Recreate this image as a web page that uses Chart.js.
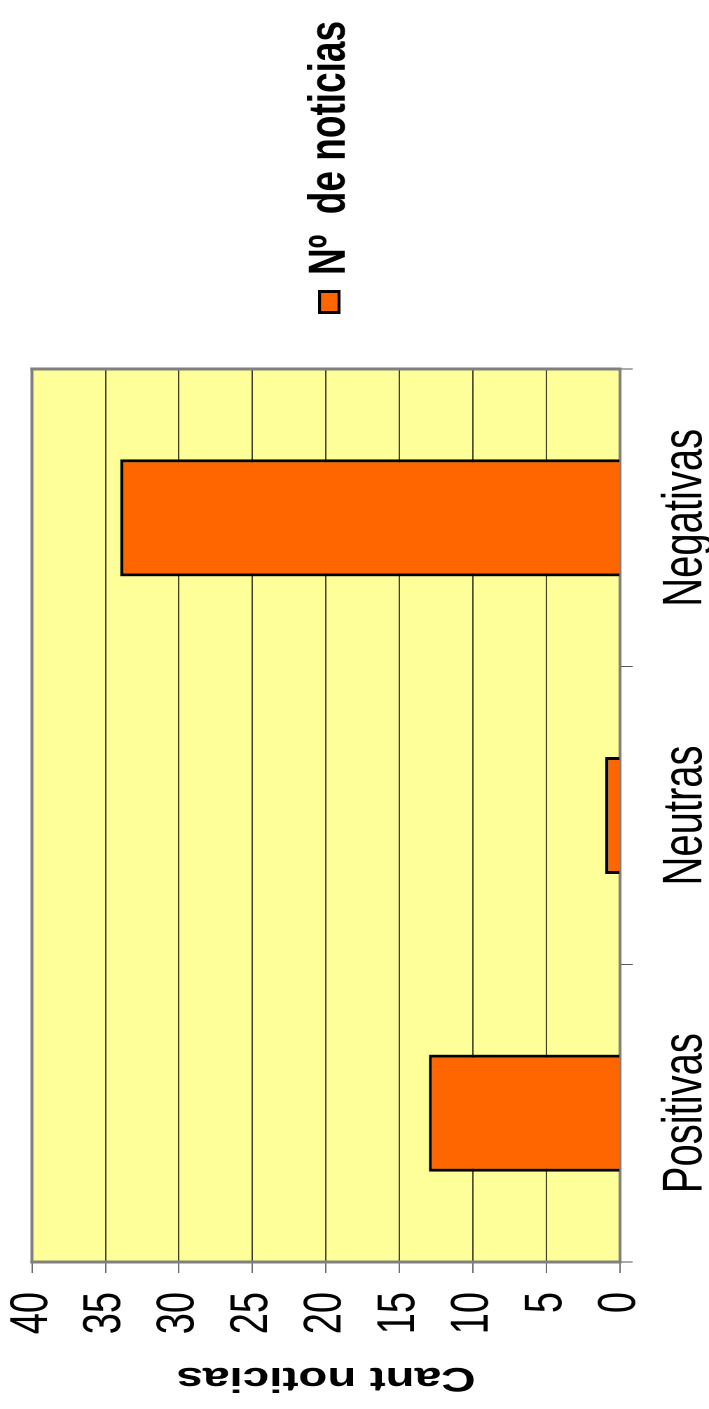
<!DOCTYPE html>
<html>
<head>
<meta charset="utf-8">
<script src="https://cdn.jsdelivr.net/npm/chart.js@4.4.1/dist/chart.umd.min.js"></script>
<style>
  html, body { margin: 0; padding: 0; background: #fff; overflow: hidden; }
  body { width: 709px; height: 1409px; position: relative; }
  #wrap {
    position: absolute; left: 0; top: 0;
    width: 1409px; height: 506px;
    transform-origin: 0 0;
    transform: translateY(1409px) rotate(-90deg) scaleY(1.4012);
  }
</style>
</head>
<body>
<div id="wrap"><canvas id="c" width="1409" height="506"></canvas></div>
<script>
const categories = ['Positivas', 'Neutras', 'Negativas'];
const noticias = [13, 1, 34];
const seriesLabel = 'Nº  de noticias';
const valueAxisTitle = 'Cant noticias';
const valueMin = 0;
const valueMax = 40;
const valueStep = 5;

const FONT = "'Liberation Sans', Arial, Helvetica, sans-serif";

const plotBg = {
  id: 'plotBg',
  beforeDraw(chart) {
    const {ctx, chartArea: a} = chart;
    ctx.save();
    ctx.fillStyle = '#FFFF99';
    ctx.fillRect(a.left, a.top, a.right - a.left, a.bottom - a.top);
    ctx.restore();
  },
  beforeDatasetsDraw(chart) {
    const {ctx, chartArea: a} = chart;
    ctx.save();
    ctx.fillStyle = '#808080';
    const tx = 3, ty = 2.1;
    ctx.fillRect(a.left - tx / 2, a.top - ty / 2, a.right - a.left + tx, ty);
    ctx.fillRect(a.left - tx / 2, a.bottom - ty / 2, a.right - a.left + tx, ty);
    ctx.fillRect(a.left - tx / 2, a.top - ty / 2, tx, a.bottom - a.top + ty);
    ctx.fillRect(a.right - tx / 2, a.top - ty / 2, tx, a.bottom - a.top + ty);
    ctx.restore();
  }
};

const legendDraw = {
  id: 'legendDraw',
  afterDraw(chart) {
    const {ctx} = chart;
    const ds = chart.data.datasets[0];
    ctx.save();
    ctx.fillStyle = '#000';
    ctx.fillRect(1095, 227, 24, 16);
    ctx.fillStyle = ds.backgroundColor;
    ctx.fillRect(1098, 229.1, 18, 11.8);
    ctx.fillStyle = '#000';
    ctx.font = 'bold 37px ' + FONT;
    ctx.textBaseline = 'alphabetic';
    ctx.textAlign = 'left';
    ctx.fillText(ds.label, 1134, 246);
    ctx.restore();
  }
};

new Chart(document.getElementById('c'), {
  type: 'bar',
  data: {
    labels: categories,
    datasets: [{
      label: seriesLabel,
      data: noticias,
      backgroundColor: '#FF6600',
      borderColor: '#000000',
      borderWidth: {left: 3, right: 3, top: 2.2, bottom: 0},
      borderSkipped: 'start',
      categoryPercentage: 1,
      barPercentage: 0.393
    }]
  },
  options: {
    responsive: false,
    animation: false,
    devicePixelRatio: 2,
    layout: { padding: { top: 22.8, right: 369, bottom: 0, left: 0 } },
    plugins: { legend: { display: false }, tooltip: { enabled: false } },
    scales: {
      x: {
        grid: { offset: true, drawOnChartArea: false, drawTicks: true, tickLength: 9, tickColor: '#555', lineWidth: 1 },
        border: { display: false },
        ticks: { font: { family: FONT, size: 40 }, color: '#000', padding: 14, maxRotation: 0, autoSkip: false },
        afterFit: s => { s.height = 63.5; s.paddingLeft = 0; s.paddingRight = 0; s.paddingTop = 0; s.paddingBottom = 0; }
      },
      y: {
        min: valueMin, max: valueMax,
        ticks: { stepSize: valueStep, font: { family: FONT, size: 38 }, color: '#000', padding: 19 },
        grid: { color: '#000', lineWidth: 0.72, tickColor: '#333', tickLength: 11, drawTicks: true },
        border: { display: false },
        title: { display: true, text: valueAxisTitle, font: { family: FONT, size: 34, weight: 'bold' }, color: '#000', padding: { top: 11, bottom: 0 } },
        afterFit: s => { s.width = 147; s.paddingTop = 0; s.paddingBottom = 0; s.paddingLeft = 0; s.paddingRight = 0; }
      }
    }
  },
  plugins: [plotBg, legendDraw]
});
</script>
</body>
</html>
